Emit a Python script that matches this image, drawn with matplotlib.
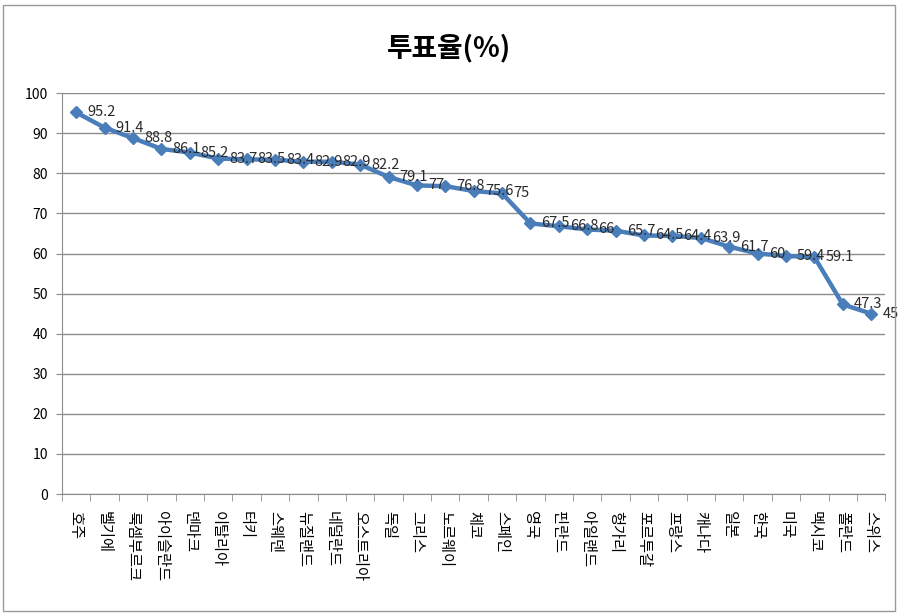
import matplotlib
matplotlib.use("Agg")
import matplotlib.pyplot as plt
from matplotlib.patches import Rectangle
import numpy as np

plt.rcParams['font.family'] = ['Noto Sans CJK KR', 'DejaVu Sans']

countries = ['호주', '벨기에', '룩셈부르크', '아이슬란드', '덴마크', '이탈리아', '터키',
             '스웨덴', '뉴질랜드', '네덜란드', '오스트리아', '독일', '그리스', '노르웨이',
             '체코', '스페인', '영국', '핀란드', '아일랜드', '헝가리', '포르투갈', '프랑스',
             '캐나다', '일본', '한국', '미국', '멕시코', '폴란드', '스위스']
turnout = [95.2, 91.4, 88.8, 86.1, 85.2, 83.7, 83.5, 83.4, 82.9, 82.9, 82.2, 79.1,
           77, 76.8, 75.6, 75, 67.5, 66.8, 66, 65.7, 64.5, 64.4, 63.9, 61.7, 60,
           59.4, 59.1, 47.3, 45]

x = np.arange(len(countries))
grid_col = '#8c8c8c'
blue = '#4a7ebb'

fig = plt.figure(figsize=(8.98, 6.13), dpi=100)
fig.patches.append(Rectangle((0.003, 0.003), 0.994, 0.989, transform=fig.transFigure,
                             fill=False, edgecolor='#9a9a9a', linewidth=1))
ax = fig.add_axes([0.069, 0.194, 0.917, 0.654])

ax.plot(x, turnout, color=blue, linewidth=3.2, marker='D', markersize=6.5,
        markerfacecolor=blue, markeredgecolor=blue, zorder=3)
for xi, v in zip(x, turnout):
    ax.annotate('%g' % v, (xi, v), xytext=(8, 0), textcoords='offset points',
                ha='left', va='center', fontsize=10.5, color='#2a2a2a', zorder=4)

ax.set_xlim(-0.5, len(countries) - 0.5)
ax.set_ylim(0, 100)
ax.set_yticks(np.arange(0, 101, 10))
ax.yaxis.grid(True, color=grid_col, linewidth=1)
ax.set_axisbelow(True)

ax.set_xticks(x)
ax.set_xticklabels(countries, rotation=-90, fontsize=11, va='top', ha='center')
ax.set_xticks(np.arange(-0.5, len(countries), 1), minor=True)
ax.tick_params(axis='x', which='major', length=0, pad=12)
ax.tick_params(axis='x', which='minor', length=5, color=grid_col, direction='out')
ax.tick_params(axis='y', length=4, color=grid_col, labelsize=10, pad=6)

for s in ['top', 'right']:
    ax.spines[s].set_visible(False)
for s in ['left', 'bottom']:
    ax.spines[s].set_color(grid_col)

fig.text(0.5, 0.922, '투표율(%)', ha='center', va='center', fontsize=20,
         fontweight='bold')

fig.savefig('out.png', dpi=100)
